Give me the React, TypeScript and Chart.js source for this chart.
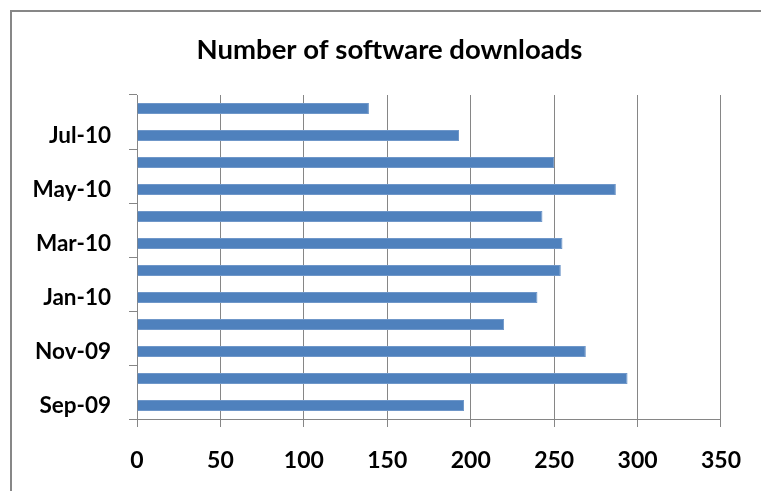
import React, { useEffect, useRef } from 'react';
import { Chart, registerables } from 'chart.js';

Chart.register(...registerables);

const months = ['Sep-09', 'Oct-09', 'Nov-09', 'Dec-09', 'Jan-10', 'Feb-10', 'Mar-10', 'Apr-10', 'May-10', 'Jun-10', 'Jul-10', 'Aug-10'];
const downloads = [196, 294, 269, 220, 240, 254, 255, 243, 287, 250, 193, 139];
const xMin = 0;
const xMax = 350;
const xStep = 50;
const chartTitle = 'Number of software downloads';

const GRID = '#868686';
const FONT = 'Lato, "Open Sans", sans-serif';

export default function App() {
  const ref = useRef<HTMLCanvasElement | null>(null);

  useEffect(() => {
    if (!ref.current) return;
    const chart = new Chart(ref.current, {
      type: 'bar',
      data: {
        labels: months,
        datasets: [
          {
            label: 'Downloads',
            data: downloads,
            yAxisID: 'y',
            backgroundColor: '#4F81BD',
            borderColor: '#6F97C9',
            borderWidth: 1,
            categoryPercentage: 1,
            barPercentage: 0.4,
          },
        ],
      },
      options: {
        indexAxis: 'y',
        responsive: false,
        animation: false,
        layout: { padding: { left: 18, right: 0, top: 0, bottom: 0 } },
        plugins: {
          legend: { display: false },
          tooltip: { enabled: false },
          title: {
            display: true,
            text: chartTitle,
            color: '#000',
            font: { family: FONT, size: 27.5, weight: 'bold', lineHeight: 1.2 },
            padding: { top: 34, bottom: 28 },
          },
        },
        scales: {
          x: {
            type: 'linear',
            min: xMin,
            max: xMax,
            ticks: {
              stepSize: xStep,
              color: '#000',
              font: { family: FONT, size: 23, weight: 'bold' },
              padding: 20,
            },
            grid: { color: GRID, tickLength: 8, lineWidth: 1 },
            border: { color: GRID, width: 1 },
            afterFit: (s: any) => {
              s.height = 72;
            },
          },
          y: {
            type: 'category',
            position: 'left',
            reverse: true,
            offset: true,
            ticks: {
              autoSkip: false,
              color: '#000',
              font: { family: FONT, size: 22.5, weight: 'bold' },
              padding: 18,
              callback: (_v: any, i: number) => (i % 2 === 0 ? months[i] : ''),
            },
            grid: {
              offset: true,
              drawOnChartArea: false,
              tickLength: 8,
              color: (ctx: any) => (ctx.type !== 'tick' || ctx.index % 2 === 0 ? GRID : 'rgba(0,0,0,0)'),
            },
            border: { color: GRID, width: 1 },
            afterFit: (s: any) => {
              s.width = 119;
            },
          },
          yRightSpace: {
            type: 'category',
            axis: 'y',
            position: 'right',
            grid: { display: false, drawTicks: false },
            border: { display: false },
            ticks: { display: false },
            afterFit: (s: any) => {
              s.width = 34;
            },
          },
        },
      },
    });
    return () => chart.destroy();
  }, []);

  return (
    <div style={{ position: 'fixed', left: 0, top: 0, width: 761, height: 491, overflow: 'hidden', background: '#fff' }}>
      <div
        style={{
          position: 'absolute',
          left: 10,
          top: 10,
          width: 900,
          height: 700,
          border: '2px solid #878787',
          boxSizing: 'border-box',
        }}
      />
      <canvas ref={ref} width={761} height={491} style={{ position: 'absolute', left: 0, top: 0, display: 'block' }} />
    </div>
  );
}
